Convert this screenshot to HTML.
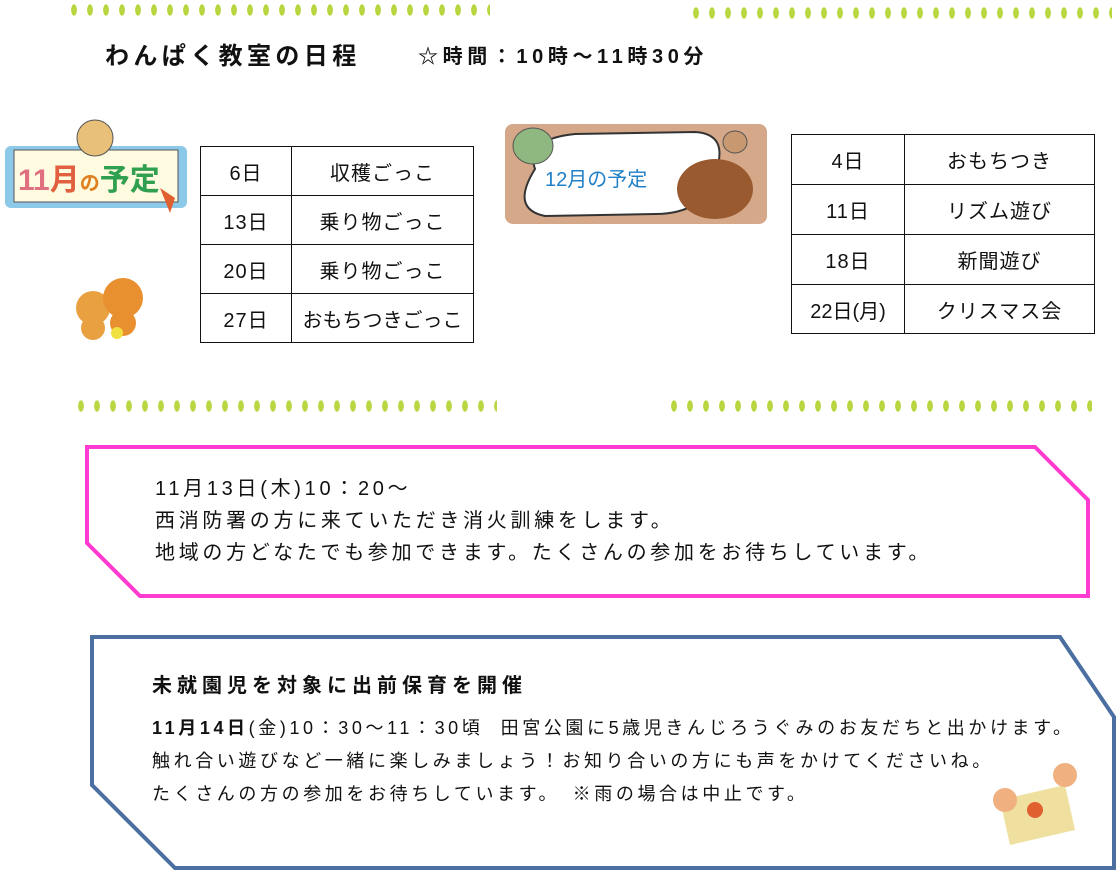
<!DOCTYPE html>
<html><head><meta charset="utf-8"><style>
body{margin:0;width:1118px;height:890px;background:#fff;position:relative;overflow:hidden;font-family:"Liberation Sans","Noto Sans CJK JP",sans-serif;color:#111}
.a{position:absolute;white-space:nowrap}
table{position:absolute;border-collapse:collapse}
td{border:1.5px solid #111;text-align:center;font-size:20px;padding:0;letter-spacing:1px}
.dots{position:absolute;height:14px;background:radial-gradient(ellipse 3px 6px at 50% 50%,#b8d640 90%,transparent 100%);background-size:16px 14px}
</style></head><body>
<div class="dots" style="left:66px;top:3px;width:424px"></div>
<div class="dots" style="left:688px;top:6px;width:424px"></div>
<div class="dots" style="left:73px;top:399px;width:424px"></div>
<div class="dots" style="left:666px;top:399px;width:426px"></div>

<div class="a" style="left:105px;top:36px;font-size:24px;font-weight:bold;letter-spacing:4.4px">わんぱく教室の日程</div>
<div class="a" style="left:418px;top:40px;font-size:20px;font-weight:bold;letter-spacing:4.6px">☆時間：10時～11時30分</div>

<svg class="a" style="left:0;top:118px" width="195" height="100">
<rect x="5" y="28" width="182" height="62" rx="6" fill="#8cc8e8"/>
<rect x="14" y="32" width="164" height="52" fill="#fffbe0" stroke="#555"/>
<circle cx="95" cy="20" r="18" fill="#e8c07a" stroke="#555"/>
<text x="18" y="72" font-size="30" font-weight="bold" fill="#e07080" font-family="Liberation Sans,Noto Sans CJK JP,sans-serif">11<tspan fill="#e06040">月</tspan><tspan fill="#e08020" font-size="20">の</tspan><tspan fill="#30a050">予定</tspan></text>
<path d="M160 70 l15 10 l-5 15 z" fill="#e06030"/>
</svg>
<svg class="a" style="left:65px;top:263px" width="85" height="80">
<circle cx="28" cy="45" r="17" fill="#e8a040"/><circle cx="58" cy="35" r="20" fill="#e89030"/><circle cx="28" cy="65" r="12" fill="#e8a040"/><circle cx="58" cy="60" r="13" fill="#e89030"/><circle cx="52" cy="70" r="6" fill="#f0e040"/>
</svg>

<table style="left:200px;top:146px;width:274px">
<tr style="height:49px"><td style="width:90px">6日</td><td>収穫ごっこ</td></tr>
<tr style="height:49px"><td>13日</td><td>乗り物ごっこ</td></tr>
<tr style="height:49px"><td>20日</td><td>乗り物ごっこ</td></tr>
<tr style="height:49px"><td>27日</td><td style="letter-spacing:0">おもちつきごっこ</td></tr>
</table>

<svg class="a" style="left:505px;top:124px" width="262" height="100">
<rect x="0" y="0" width="262" height="100" rx="8" fill="#d4a888"/>
<path d="M30 45 Q20 15 70 10 L190 8 Q225 10 210 50 Q200 90 150 90 L40 92 Q5 85 30 45z" fill="#fff" stroke="#333" stroke-width="2"/>
<ellipse cx="28" cy="22" rx="20" ry="18" fill="#8fb880" stroke="#555"/>
<ellipse cx="210" cy="65" rx="38" ry="30" fill="#9a5a30"/>
<ellipse cx="230" cy="18" rx="12" ry="11" fill="#c89870" stroke="#555"/>
<text x="40" y="62" font-size="20" fill="#2080c8" font-family="Liberation Sans,Noto Sans CJK JP,sans-serif">12月の予定</text>
</svg>

<table style="left:791px;top:134px;width:304px">
<tr style="height:50px"><td style="width:112px">4日</td><td>おもちつき</td></tr>
<tr style="height:50px"><td>11日</td><td>リズム遊び</td></tr>
<tr style="height:50px"><td>18日</td><td>新聞遊び</td></tr>
<tr style="height:49px"><td style="letter-spacing:0">22日(月)</td><td>クリスマス会</td></tr>
</table>

<svg class="a" style="left:0;top:0" width="1118" height="890">
<polygon points="87,447 1035,447 1088,500 1088,596 140,596 87,543" fill="none" stroke="#ff3ccf" stroke-width="4"/>
<polygon points="92,637 1060,637 1114,717 1114,868 175,868 92,785" fill="none" stroke="#4a6fa0" stroke-width="4"/>
</svg>

<div class="a" style="left:155px;top:473px;font-size:20px;line-height:32px;letter-spacing:3.7px">11月13日(木)10：20～<br>西消防署の方に来ていただき消火訓練をします。<br>地域の方どなたでも参加できます。たくさんの参加をお待ちしています。</div>

<div class="a" style="left:152px;top:669px;font-size:20px;font-weight:bold;letter-spacing:5px">未就園児を対象に出前保育を開催</div>
<div class="a" style="left:152px;top:712px;font-size:18px;line-height:33px;letter-spacing:3.6px"><b>11月14日</b>(金)10：30～11：30頃&nbsp; 田宮公園に5歳児きんじろうぐみのお友だちと出かけます。<br>触れ合い遊びなど一緒に楽しみましょう！お知り合いの方にも声をかけてくださいね。<br>たくさんの方の参加をお待ちしています。　※雨の場合は中止です。</div>

<svg class="a" style="left:985px;top:760px" width="100" height="90">
<polygon points="15,40 80,25 90,70 25,85" fill="#f0e0a0"/>
<circle cx="20" cy="40" r="12" fill="#f0b080"/><circle cx="80" cy="15" r="12" fill="#f0b080"/>
<circle cx="50" cy="50" r="8" fill="#e06030"/>
</svg>
</body></html>
